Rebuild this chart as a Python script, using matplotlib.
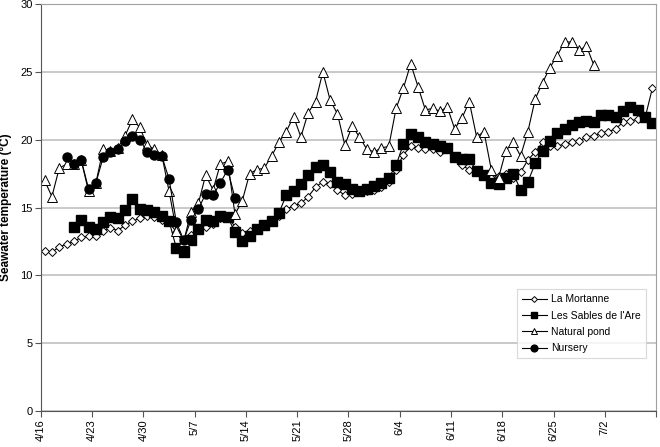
import numpy as np
import matplotlib
matplotlib.use("Agg")
import matplotlib.pyplot as plt

plt.rcParams['font.family'] = ['Liberation Sans', 'DejaVu Sans']

# tick labels (one per week, starting 4/16)
week_labels = ["4/16", "4/23", "4/30", "5/7", "5/14", "5/21", "5/28",
               "6/4", "6/11", "6/18", "6/25", "7/2", ""]

# daily seawater temperatures (deg C), day 0 = 4/16
la_mortanne = [11.8, 11.7, 12.1, 12.3, 12.5, 12.8, 12.9, 12.9, 13.3, 13.5,
               13.3, 13.7, 14.0, 14.2, 14.4, 14.3, 14.1, 13.9, 13.2, 12.3,
               13.0, 13.4, 13.6, 13.8, 14.2, 14.3, 13.6, 13.1, 13.3, 13.5,
               13.7, 14.0, 14.4, 14.9, 15.1, 15.3, 15.8, 16.5, 16.9, 16.7,
               16.3, 15.9, 16.0, 16.2, 16.2, 16.3, 16.5, 16.9, 17.8, 18.9,
               19.5, 19.4, 19.3, 19.3, 19.1, 19.3, 18.8, 18.1, 17.8, 17.6,
               17.3, 17.2, 17.3, 17.5, 17.2, 17.6, 18.5, 19.1, 19.8, 19.5,
               19.5, 19.7, 19.8, 19.9, 20.2, 20.3, 20.5, 20.6, 20.8, 21.3,
               21.4, 21.5, 21.6, 23.8]

sables_start = 4
sables = [13.6, 14.1, 13.6, 13.4, 13.95, 14.3, 14.2, 14.85, 15.6, 14.9,
          14.8, 14.7, 14.4, 14.0, 12.0, 11.7, 12.6, 13.4, 14.1, 14.0,
          14.4, 14.3, 13.2, 12.5, 12.9, 13.4, 13.7, 14.0, 14.6, 15.9,
          16.2, 16.7, 17.4, 18.0, 18.1, 17.6, 16.9, 16.7, 16.4, 16.2,
          16.4, 16.6, 16.8, 17.2, 18.1, 19.7, 20.4, 20.2, 19.8, 19.7,
          19.5, 19.4, 18.7, 18.6, 18.55, 17.7, 17.4, 16.8, 16.7, 17.2,
          17.5, 16.3, 16.9, 18.25, 19.2, 19.9, 20.5, 20.8, 21.1, 21.3,
          21.4, 21.3, 21.8, 21.8, 21.7, 22.1, 22.4, 22.2, 21.7, 21.2]

natural_pond = [17.0, 15.8, 17.9, 18.2, 18.2, 18.5, 16.2, 16.8, 19.3, 19.2,
                19.4, 20.3, 21.5, 20.9, 19.6, 19.3, 18.9, 16.2, 13.3, 12.5,
                14.7, 15.3, 17.4, 16.3, 18.2, 18.4, 14.5, 15.5, 17.5, 17.8,
                17.9, 18.8, 19.8, 20.6, 21.7, 20.2, 22.0, 22.8, 25.0, 22.9,
                21.9, 19.6, 21.0, 20.2, 19.3, 19.1, 19.4, 19.5, 22.3, 23.8,
                25.6, 23.9, 22.2, 22.3, 22.1, 22.4, 20.8, 21.6, 22.8, 20.2,
                20.6, 17.8, 17.2, 19.2, 19.8, 18.8, 20.6, 23.0, 24.2, 25.3,
                26.2, 27.2, 27.2, 26.6, 26.9, 25.5]

nursery_start = 3
nursery = [18.7, 18.2, 18.5, 16.4, 16.8, 18.7, 19.1, 19.3, 19.9, 20.3,
           20.0, 19.1, 18.9, 18.8, 17.1, 13.9, 12.6, 14.1, 14.9, 16.0,
           15.9, 16.8, 17.8, 15.7]


def day_x(start, values):
    # points sit in the middle of each day
    return np.arange(start, start + len(values)) + 0.5


fig = plt.figure(figsize=(6.6, 4.47), dpi=100)
ax = fig.add_axes([0.062, 0.0805, 0.932, 0.9105])

line_kw = dict(color='black', linewidth=0.8)
ax.plot(day_x(0, la_mortanne), la_mortanne, marker='D', markersize=4,
        markerfacecolor='white', markeredgecolor='black', markeredgewidth=0.7,
        label='La Mortanne', **line_kw)
ax.plot(day_x(sables_start, sables), sables, marker='s', markersize=6.5,
        markerfacecolor='black', markeredgecolor='black',
        label="Les Sables de l'Are", **line_kw)
ax.plot(day_x(0, natural_pond), natural_pond, marker='^', markersize=6.5,
        markerfacecolor='white', markeredgecolor='black', markeredgewidth=0.7,
        label='Natural pond', **line_kw)
ax.plot(day_x(nursery_start, nursery), nursery, marker='o', markersize=6.5,
        markerfacecolor='black', markeredgecolor='black',
        label='Nursery', **line_kw)

ax.set_xlim(0, 84)
ax.set_ylim(0, 30)
ax.set_xticks(np.arange(0, 85, 7))
ax.set_xticklabels(week_labels, rotation=90, fontsize=8)
ax.set_yticks(np.arange(0, 31, 5))
ax.tick_params(axis='y', labelsize=8, length=4, pad=2, color='#555555')
ax.tick_params(axis='x', length=4, pad=2, color='#555555')
ax.yaxis.grid(True, color='#c0c0c0', linewidth=1.2)
ax.set_axisbelow(True)

for side in ['top', 'right']:
    ax.spines[side].set_color('#a0a0a0')
for side in ['left', 'bottom']:
    ax.spines[side].set_color('#555555')

ax.set_ylabel('Seawater temperature (°C)', fontsize=8.5, fontweight='bold')
ax.yaxis.set_label_coords(-0.047, 0.5)

leg = ax.legend(loc='upper left', bbox_to_anchor=(0.765, 0.312), fontsize=7.5,
                frameon=True, fancybox=False, edgecolor='#d0d0d0',
                handlelength=2.4, handletextpad=0.4, markerscale=0.75,
                borderpad=0.5, labelspacing=0.6)
leg.get_frame().set_linewidth(0.8)

fig.savefig('out.png', dpi=100)
